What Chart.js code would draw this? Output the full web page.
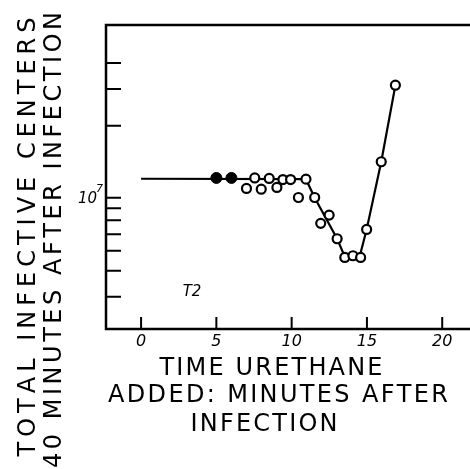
<!DOCTYPE html>
<html>
<head>
    <title>Total infective centers vs time urethane added</title>
    <script src="https://cdn.jsdelivr.net/npm/chart.js"></script>
    <style>
        body { margin: 0; background: #fff; }
        #wrap { width: 470px; height: 469px; }
    </style>
</head>
<body>
<div id="wrap"><canvas id="c" width="470" height="469"></canvas></div>
<script>
    // smooth curve drawn through the points
    var curveX = [0, 10.95, 11.53, 13.02, 13.55, 14.5, 14.98, 15.95, 16.89];
    var curveY = [1.11e7, 1.105e7, 9.0e6, 5.71e6, 4.64e6, 4.64e6, 6.33e6, 1.34e7, 3.13e7];

    // filled circles
    var filledX = [5, 6];
    var filledY = [1.12e7, 1.12e7];

    // open circles
    var openX = [7.0, 7.55, 7.98, 8.51, 9.02, 9.42, 9.93, 10.45, 10.95, 11.53, 11.93, 12.49, 13.02, 13.53, 14.07, 14.58, 14.98, 15.95, 16.89];
    var openY = [9.97e6, 1.12e7, 9.89e6, 1.114e7, 1.008e7, 1.10e7, 1.10e7, 9.02e6, 1.105e7, 9.02e6, 6.77e6, 7.42e6, 5.71e6, 4.64e6, 4.73e6, 4.64e6, 6.33e6, 1.34e7, 3.13e7];

    var xTicks = [0, 5, 10, 15, 20];
    var xTickLabels = ['0', '5', '10', '15', '20'];
    var yTicks = [3e6, 4e6, 5e6, 6e6, 7e6, 8e6, 9e6, 2e7, 3e7, 4e7];

    function pts(xs, ys) {
        return xs.map(function (x, i) { return { x: x, y: ys[i] }; });
    }

    // draw text spread to a given width, centred on (cx, cy)
    function spreadText(ctx, text, cx, cy, width) {
        var widths = text.split('').map(function (ch) { return ctx.measureText(ch).width; });
        var total = widths.reduce(function (a, b) { return a + b; }, 0);
        var gap = (width - total) / (text.length - 1);
        var x = cx - width / 2;
        ctx.textAlign = 'left';
        ctx.textBaseline = 'middle';
        for (var i = 0; i < text.length; i++) {
            ctx.fillText(text[i], x, cy);
            x += widths[i] + gap;
        }
    }

    var decor = {
        id: 'decor',
        afterDraw: function (chart) {
            var ctx = chart.ctx;
            var a = chart.chartArea;
            var xs = chart.scales.x, ys = chart.scales.y;
            ctx.save();
            ctx.strokeStyle = '#000';
            ctx.fillStyle = '#000';

            // frame: top, left, bottom (open on the right, runs off the page)
            ctx.lineWidth = 2.5;
            ctx.beginPath();
            ctx.moveTo(chart.width, a.top);
            ctx.lineTo(a.left, a.top);
            ctx.lineTo(a.left, a.bottom);
            ctx.lineTo(chart.width, a.bottom);
            ctx.stroke();

            // inward ticks
            ctx.lineWidth = 2;
            ctx.beginPath();
            yTicks.forEach(function (v) {
                var y = ys.getPixelForValue(v);
                ctx.moveTo(a.left, y);
                ctx.lineTo(a.left + 15, y);
            });
            xTicks.forEach(function (v) {
                var x = xs.getPixelForValue(v);
                ctx.moveTo(x, a.bottom);
                ctx.lineTo(x, a.bottom - 12);
            });
            ctx.stroke();

            // x tick labels
            ctx.font = 'italic 16px "DejaVu Sans"';
            ctx.textAlign = 'center';
            ctx.textBaseline = 'middle';
            xTicks.forEach(function (v, i) {
                ctx.fillText(xTickLabels[i], xs.getPixelForValue(v), a.bottom + 13);
            });

            // 10^7 label
            var y7 = ys.getPixelForValue(1e7);
            ctx.textAlign = 'right';
            ctx.font = 'italic 15px "DejaVu Sans"';
            ctx.fillText('10', a.left - 9, y7 + 11);
            ctx.font = 'italic 11px "DejaVu Sans"';
            ctx.textAlign = 'left';
            ctx.fillText('7', a.left - 10, y7 + 1);

            // T2 note
            ctx.font = 'italic 15px "DejaVu Sans"';
            ctx.textAlign = 'center';
            ctx.fillText('T2', 192, 292);

            // x title
            ctx.font = '24px "DejaVu Sans"';
            spreadText(ctx, 'TIME URETHANE', 271, 369, 223);
            spreadText(ctx, 'ADDED: MINUTES AFTER', 278, 396, 340);
            spreadText(ctx, 'INFECTION', 264, 425, 147);

            // y title
            ctx.save();
            ctx.rotate(-Math.PI / 2);
            spreadText(ctx, 'TOTAL INFECTIVE CENTERS', -237, 29, 439);
            spreadText(ctx, '40 MINUTES AFTER INFECTION', -240, 55, 456);
            ctx.restore();

            ctx.restore();
        }
    };

    new Chart(document.getElementById('c').getContext('2d'), {
        type: 'scatter',
        data: {
            datasets: [
                {
                    data: pts(curveX, curveY),
                    showLine: true,
                    borderColor: '#000',
                    borderWidth: 2.2,
                    pointRadius: 0,
                    tension: 0,
                    order: 3
                },
                {
                    data: pts(openX, openY),
                    pointRadius: 4.5,
                    pointBackgroundColor: '#fff',
                    pointBorderColor: '#000',
                    pointBorderWidth: 2.2,
                    order: 2
                },
                {
                    data: pts(filledX, filledY),
                    pointRadius: 5.5,
                    pointBackgroundColor: '#000',
                    pointBorderColor: '#000',
                    pointBorderWidth: 1,
                    order: 1
                }
            ]
        },
        options: {
            responsive: false,
            animation: false,
            layout: { padding: { left: 106, top: 25, right: 0, bottom: 140 } },
            plugins: { legend: { display: false }, tooltip: { enabled: false } },
            scales: {
                x: { type: 'linear', min: -2.33, max: 21.4, display: false },
                y: { type: 'logarithmic', min: 2.1e6, max: 6.1e7, display: false }
            }
        },
        plugins: [decor]
    });
</script>
</body>
</html>
